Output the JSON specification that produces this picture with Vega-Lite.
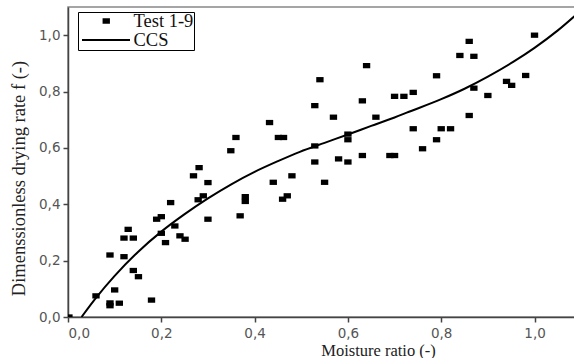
{
  "$schema": "https://vega.github.io/schema/vega-lite/v6.json",
  "autosize": {"type": "none"},
  "padding": {"left": 68, "top": 7, "right": 0, "bottom": 41},
  "width": 510,
  "height": 310,
  "background": "white",
  "config": {
    "view": {"stroke": "#888888", "strokeWidth": 1.5},
    "axis": {
      "labelFont": "DejaVu Sans",
      "labelFontSize": 13.5,
      "labelColor": "#555555",
      "domainColor": "#444444",
      "domainWidth": 1.5,
      "tickColor": "#444444",
      "tickWidth": 1.5,
      "tickSize": 5,
      "grid": false,
      "titleFont": "Liberation Serif",
      "titleFontWeight": "normal",
      "titleColor": "#222222"
    }
  },
  "datasets": {
    "pts": [
      {"x": 0.002, "y": 0.0}, {"x": 0.06, "y": 0.075}, {"x": 0.09, "y": 0.22}, {"x": 0.09, "y": 0.05},
      {"x": 0.09, "y": 0.04}, {"x": 0.10, "y": 0.096}, {"x": 0.11, "y": 0.049}, {"x": 0.12, "y": 0.214},
      {"x": 0.12, "y": 0.28}, {"x": 0.129, "y": 0.311}, {"x": 0.14, "y": 0.28}, {"x": 0.14, "y": 0.165},
      {"x": 0.151, "y": 0.143}, {"x": 0.179, "y": 0.06}, {"x": 0.19, "y": 0.347}, {"x": 0.20, "y": 0.356},
      {"x": 0.20, "y": 0.297}, {"x": 0.209, "y": 0.264}, {"x": 0.22, "y": 0.406}, {"x": 0.229, "y": 0.323},
      {"x": 0.24, "y": 0.288}, {"x": 0.251, "y": 0.276}, {"x": 0.269, "y": 0.501}, {"x": 0.279, "y": 0.416},
      {"x": 0.29, "y": 0.43}, {"x": 0.30, "y": 0.477}, {"x": 0.30, "y": 0.347}, {"x": 0.281, "y": 0.53},
      {"x": 0.349, "y": 0.59}, {"x": 0.36, "y": 0.637}, {"x": 0.369, "y": 0.359}, {"x": 0.38, "y": 0.427},
      {"x": 0.38, "y": 0.41}, {"x": 0.432, "y": 0.69}, {"x": 0.44, "y": 0.478}, {"x": 0.451, "y": 0.637},
      {"x": 0.462, "y": 0.637}, {"x": 0.46, "y": 0.418}, {"x": 0.47, "y": 0.43}, {"x": 0.48, "y": 0.501},
      {"x": 0.529, "y": 0.607}, {"x": 0.529, "y": 0.55}, {"x": 0.529, "y": 0.75}, {"x": 0.54, "y": 0.842},
      {"x": 0.55, "y": 0.478}, {"x": 0.569, "y": 0.709}, {"x": 0.58, "y": 0.561}, {"x": 0.60, "y": 0.55},
      {"x": 0.60, "y": 0.649}, {"x": 0.60, "y": 0.629}, {"x": 0.631, "y": 0.767}, {"x": 0.631, "y": 0.573},
      {"x": 0.64, "y": 0.892}, {"x": 0.66, "y": 0.709}, {"x": 0.69, "y": 0.573}, {"x": 0.70, "y": 0.573},
      {"x": 0.70, "y": 0.783}, {"x": 0.72, "y": 0.783}, {"x": 0.74, "y": 0.797}, {"x": 0.74, "y": 0.668},
      {"x": 0.76, "y": 0.597}, {"x": 0.79, "y": 0.856}, {"x": 0.79, "y": 0.629}, {"x": 0.80, "y": 0.668},
      {"x": 0.82, "y": 0.668}, {"x": 0.84, "y": 0.928}, {"x": 0.86, "y": 0.978}, {"x": 0.86, "y": 0.715},
      {"x": 0.87, "y": 0.925}, {"x": 0.87, "y": 0.812}, {"x": 0.90, "y": 0.786}, {"x": 0.94, "y": 0.836},
      {"x": 0.951, "y": 0.822}, {"x": 0.981, "y": 0.857}, {"x": 1.0, "y": 1.0}
    ],
    "ccs": [
      {"x": 0.029, "y": 0.0}, {"x": 0.06, "y": 0.068}, {"x": 0.10, "y": 0.146}, {"x": 0.15, "y": 0.231},
      {"x": 0.20, "y": 0.303}, {"x": 0.25, "y": 0.365}, {"x": 0.30, "y": 0.421}, {"x": 0.35, "y": 0.471},
      {"x": 0.40, "y": 0.515}, {"x": 0.45, "y": 0.553}, {"x": 0.497, "y": 0.586}, {"x": 0.55, "y": 0.618},
      {"x": 0.597, "y": 0.646}, {"x": 0.65, "y": 0.678}, {"x": 0.70, "y": 0.708}, {"x": 0.726, "y": 0.725},
      {"x": 0.80, "y": 0.773}, {"x": 0.85, "y": 0.81}, {"x": 0.90, "y": 0.853}, {"x": 0.955, "y": 0.906},
      {"x": 1.0, "y": 0.955}, {"x": 1.05, "y": 1.017}, {"x": 1.095, "y": 1.081}
    ]
  },
  "layer": [
    {
      "data": {"name": "ccs"},
      "mark": {"type": "line", "strokeWidth": 2, "interpolate": "monotone", "clip": true},
      "encoding": {
        "x": {"field": "x", "type": "quantitative"},
        "y": {"field": "y", "type": "quantitative"},
        "color": {
          "datum": "CCS",
          "scale": {"range": ["black"]},
          "legend": {
            "orient": "none",
            "legendX": 13,
            "legendY": 8,
            "title": null,
            "padding": 0,
            "symbolType": "stroke",
            "symbolSize": 2304,
            "symbolStrokeWidth": 2,
            "labelExpr": "''",
            "zindex": 5
          }
        }
      }
    },
    {
      "data": {"name": "pts"},
      "transform": [{"calculate": "'Test 1-9'", "as": "series"}],
      "mark": {"type": "point", "filled": true, "color": "black", "opacity": 1, "size": 54, "clip": true},
      "encoding": {
        "x": {
          "field": "x", "type": "quantitative",
          "scale": {"domain": [0, 1.0932], "nice": false, "zero": false},
          "axis": {
            "values": [0, 0.2, 0.4, 0.6, 0.8, 1.0],
            "labelExpr": "replace(format(datum.value, '.1f'), '.', ',')",
            "title": "Moisture ratio (-)",
            "titleFontSize": 16.5,
            "titleX": 310,
            "titleY": 38,
            "titleBaseline": "alphabetic",
            "labelPadding": 4
          }
        },
        "y": {
          "field": "y", "type": "quantitative",
          "scale": {"domain": [0, 1.1], "nice": false, "zero": false},
          "axis": {
            "values": [0, 0.2, 0.4, 0.6, 0.8, 1.0],
            "labelExpr": "replace(format(datum.value, '.1f'), '.', ',')",
            "title": "Dimenssionless drying rate f (-)",
            "titleFontSize": 18.5,
            "titleY": 171,
            "titleX": -40,
            "titleAnchor": "middle",
            "labelPadding": 3
          }
        },
        "shape": {
          "field": "series", "type": "nominal",
          "scale": {"domain": ["Test 1-9", "CCS"], "range": ["M-1,-0.72H1V0.72H-1Z", "M0,0"]},
          "legend": {
            "orient": "none",
            "legendX": 10,
            "legendY": 5,
            "title": null,
            "strokeColor": "black",
            "fillColor": "white",
            "padding": 0,
            "labelFont": "Liberation Serif",
            "labelFontSize": 18.5,
            "labelColor": "#111111",
            "labelExpr": "datum.label + '\u00a0\u00a0\u00a0'",
            "symbolSize": 54,
            "symbolFillColor": "black",
            "symbolStrokeWidth": 0,
            "symbolOffset": 19,
            "labelOffset": 18,
            "clipHeight": 18,
            "rowPadding": 0,
            "zindex": 1
          }
        }
      }
    }
  ]
}
